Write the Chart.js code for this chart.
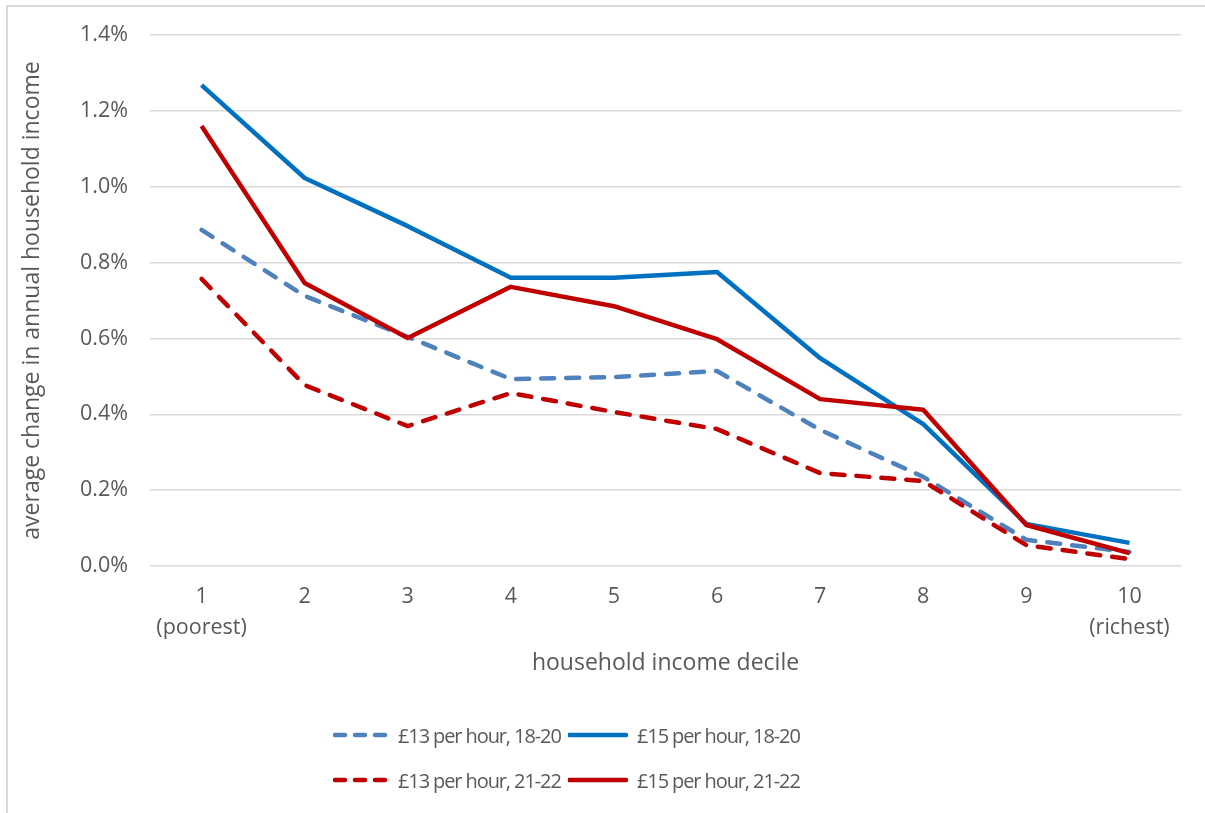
<!DOCTYPE html>
<html>
<head>
<meta charset="utf-8">
<script src="https://cdn.jsdelivr.net/npm/chart.js@4.4.1/dist/chart.umd.min.js"></script>
<style>
  html, body { margin: 0; padding: 0; background: #fff; }
  #wrap { position: relative; width: 1205px; height: 813px; overflow: hidden; }
  #frame { position: absolute; left: 6px; top: 5px; width: 1300px; height: 900px;
           border-left: 2px solid #d9d9d9; border-top: 2px solid #d9d9d9; }
  #chart { position: absolute; left: 0; top: 0; }
  .leg { position: absolute; display: flex; align-items: center; font-family: "Open Sans", sans-serif;
         font-size: 20px; letter-spacing: -1.1px; color: #595959; white-space: nowrap; }
  .leg svg { margin-right: 9px; }
</style>
</head>
<body>
<div id="wrap">
  <div id="frame"></div>
  <canvas id="chart" width="1205" height="813"></canvas>
  <div id="legend"></div>
</div>
<script>
// deciles (x axis)
const deciles = [["1", "(poorest)"], "2", "3", "4", "5", "6", "7", "8", "9", ["10", "(richest)"]];

// average change in annual household income, %
const low1820 = [0.886, 0.712, 0.604, 0.493, 0.498, 0.514, 0.359, 0.235, 0.069, 0.037];
const high1820 = [1.268, 1.023, 0.896, 0.760, 0.760, 0.775, 0.548, 0.374, 0.111, 0.061];
const low2122 = [0.757, 0.477, 0.369, 0.456, 0.406, 0.361, 0.245, 0.224, 0.055, 0.018];
const high2122 = [1.160, 0.746, 0.601, 0.736, 0.685, 0.598, 0.440, 0.412, 0.108, 0.034];

const seriesNames = ["£13 per hour, 18-20", "£15 per hour, 18-20", "£13 per hour, 21-22", "£15 per hour, 21-22"];

const FONT = "'Open Sans', sans-serif";
const TEXT = "#595959";

function line(label, data, color, dashed, order) {
  return {
    label: label,
    data: data,
    borderColor: color,
    backgroundColor: color,
    borderWidth: 4.5,
    borderDash: dashed ? [13, 12] : [],
    borderCapStyle: dashed ? "round" : "butt",
    borderJoinStyle: "round",
    pointRadius: 0,
    tension: 0,
    fill: false,
    order: order,
  };
}

const datasets = [
  line(seriesNames[0], low1820, "#4F81BD", true, 3),
  line(seriesNames[1], high1820, "#0070C0", false, 2),
  line(seriesNames[2], low2122, "#C00000", true, 1),
  line(seriesNames[3], high2122, "#C00000", false, 0),
];

new Chart(document.getElementById("chart"), {
  type: "line",
  data: { labels: deciles, datasets: datasets },
  options: {
    responsive: false,
    animation: false,
    layout: { padding: { left: 0, right: 24, top: 35, bottom: 132 } },
    plugins: { legend: { display: false }, tooltip: { enabled: false } },
    scales: {
      x: {
        offset: true,
        grid: { display: false },
        border: { display: false },
        ticks: { color: TEXT, font: { family: FONT, size: 21.5, lineHeight: 1.43 }, padding: 8, maxRotation: 0 },
        title: { display: true, text: "household income decile", color: TEXT,
                 font: { family: FONT, size: 23 }, padding: { top: 4, bottom: 4 } },
        afterFit: (scale) => { scale.height = 115; },
      },
      y: {
        min: 0,
        max: 1.4,
        grid: { color: "#d9d9d9", lineWidth: 1.5, drawTicks: false },
        border: { display: false },
        ticks: { stepSize: 0.2, color: TEXT, font: { family: FONT, size: 21.5 }, padding: 22,
                 callback: (v) => v.toFixed(1) + "%" },
        title: { display: true, text: "average change in annual household income", color: TEXT,
                 font: { family: FONT, size: 23 }, padding: { top: 19, bottom: 0 } },
        afterFit: (scale) => { scale.width = 150; },
      },
    },
  },
});

// legend: two rows, two columns
const legendSpots = [
  { left: 333, top: 735 }, { left: 568, top: 735 },
  { left: 333, top: 780 }, { left: 568, top: 780 },
];
const legendEl = document.getElementById("legend");
datasets.forEach((ds, i) => {
  const item = document.createElement("div");
  item.className = "leg";
  item.style.left = legendSpots[i].left + "px";
  item.style.top = (legendSpots[i].top - 14) + "px";
  item.style.height = "28px";
  const dashed = ds.borderDash.length > 0;
  const w = dashed ? 56 : 60;
  item.innerHTML =
    `<svg width="${w}" height="10"><line x1="${dashed ? 2 : 1}" y1="5" x2="${w - 2}" y2="5" stroke="${ds.borderColor}" ` +
    `stroke-width="4.5" stroke-linecap="round" ${dashed ? 'stroke-dasharray="10 10"' : ""}/></svg>` +
    `<span>${ds.label}</span>`;
  legendEl.appendChild(item);
});
</script>
</body>
</html>
